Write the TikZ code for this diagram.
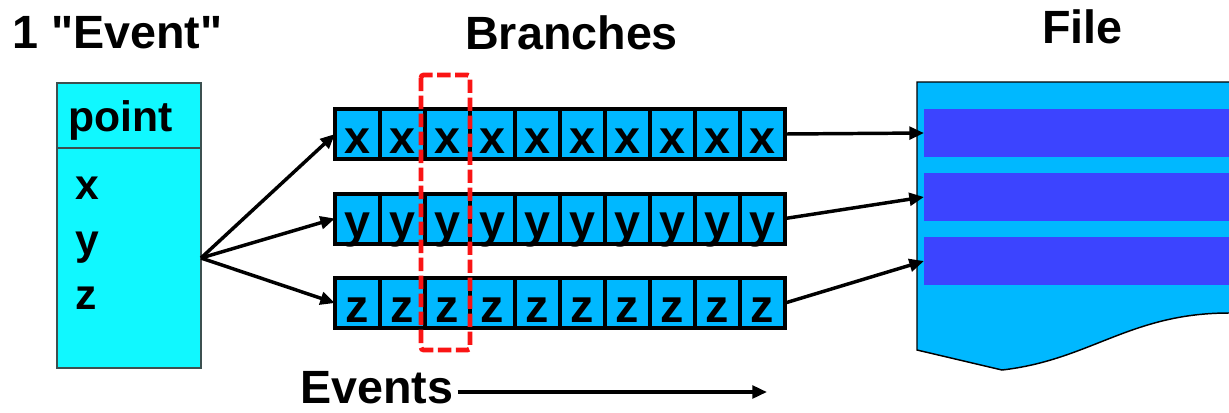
\documentclass[tikz,border=0pt]{standalone}
\usepackage{fontspec}
\setmainfont{Liberation Sans}
\usepackage{tikz}
\usetikzlibrary{positioning,arrows.meta}

\definecolor{boxcyan}{RGB}{16,248,255}
\definecolor{cellblue}{RGB}{0,184,255}
\definecolor{stripeblue}{RGB}{60,68,255}
\definecolor{selred}{RGB}{250,20,20}
\definecolor{boxline}{RGB}{60,80,80}

\begin{document}
\begin{tikzpicture}[
x=0.75pt, y=-0.75pt,
lbl/.style={inner sep=0pt, font=\fontsize{35}{42}\selectfont\bfseries},
smalllbl/.style={inner sep=0pt, font=\fontsize{32}{38}\selectfont\bfseries},
evbox/.style={rectangle, draw=boxline, line width=1.1pt, fill=boxcyan, minimum width=108pt, inner sep=0pt, outer sep=0pt},
cell/.style={rectangle, draw=black, line width=3pt, fill=cellblue, minimum width=33.75pt, minimum height=37.5pt, inner sep=0pt, outer sep=0pt, text height=28.5pt, text depth=0pt, font=\fontsize{35}{42}\selectfont\bfseries},
stripe/.style={rectangle, fill=stripeblue, minimum width=228.75pt, minimum height=36pt, inner sep=0pt, outer sep=0pt},
arr/.style={-{Triangle[length=11pt, width=9.5pt]}, line width=2.6pt},
sel/.style={draw=selred, line width=3.6pt, dash pattern=on 10pt off 3.5pt, rounded corners=2pt},
]
\useasboundingbox (0,0) rectangle (1229,412);

%Titles
\node[lbl, anchor=base west] (evtitle)  at (12,48)   {1 \textquotedbl Event\textquotedbl};
\node[lbl, anchor=base west] (brtitle)  at (465,49)  {Branches};
\node[lbl, anchor=base west] (filetitle) at (1042,43) {File};

%Event
\node[evbox, minimum height=48.75pt, anchor=north west] (head) at (57,83) {};
\node[evbox, minimum height=165pt]  (body)  [below=0pt of head] {};
\node[smalllbl, anchor=base west]   (point) at (68,131) {point};
\node[smalllbl, anchor=base west]   (fx)    at (75,199) {x};
\node[smalllbl, anchor=base west]   (fy)    at (75,254) {y};
\node[smalllbl, anchor=base west]   (fz)    at (75,309) {z};

%Branches
\foreach \v [count=\r] in {x,y,z} {
  \node[cell] (\v1) at (357.5,49.5+84.5*\r) {\v};
  \foreach \i [remember=\i as \j (initially 1)] in {2,...,10}
    \node[cell] (\v\i) [right=0pt of \v\j] {\v};
}
\draw[sel] (421,75) rectangle (470,350);

%File
\fill[cellblue] (917,82) -- (1229,82) -- (1229,313)
  .. controls (1130,313) and (1090,360) .. (1002,370) -- (917,350) -- cycle;
\node[stripe, anchor=north west] (s1) at (924,109) {};
\node[stripe, anchor=north west] (s2) at (924,173) {};
\node[stripe, anchor=north west] (s3) at (924,237) {};
\draw[line width=1.1pt] (1229,82) -- (917,82) -- (917,350) -- (1002,370)
  .. controls (1090,360) and (1130,313) .. (1229,313);

%Lines
\foreach \v in {x,y,z}
  \draw[arr] (body.east) -- (\v1.west);
\draw[arr] (x10.east) -- (s1.west);
\draw[arr] (y10.east) -- (s2.west);
\draw[arr] (z10.east) -- (s3.west);

%Events
\node[lbl, anchor=base west] (events) at (300,403) {Events};
\coordinate (evend) at (767,392);
\draw[arr, shorten <=3pt] (events.east |- evend) -- (evend);
\end{tikzpicture}
\end{document}
